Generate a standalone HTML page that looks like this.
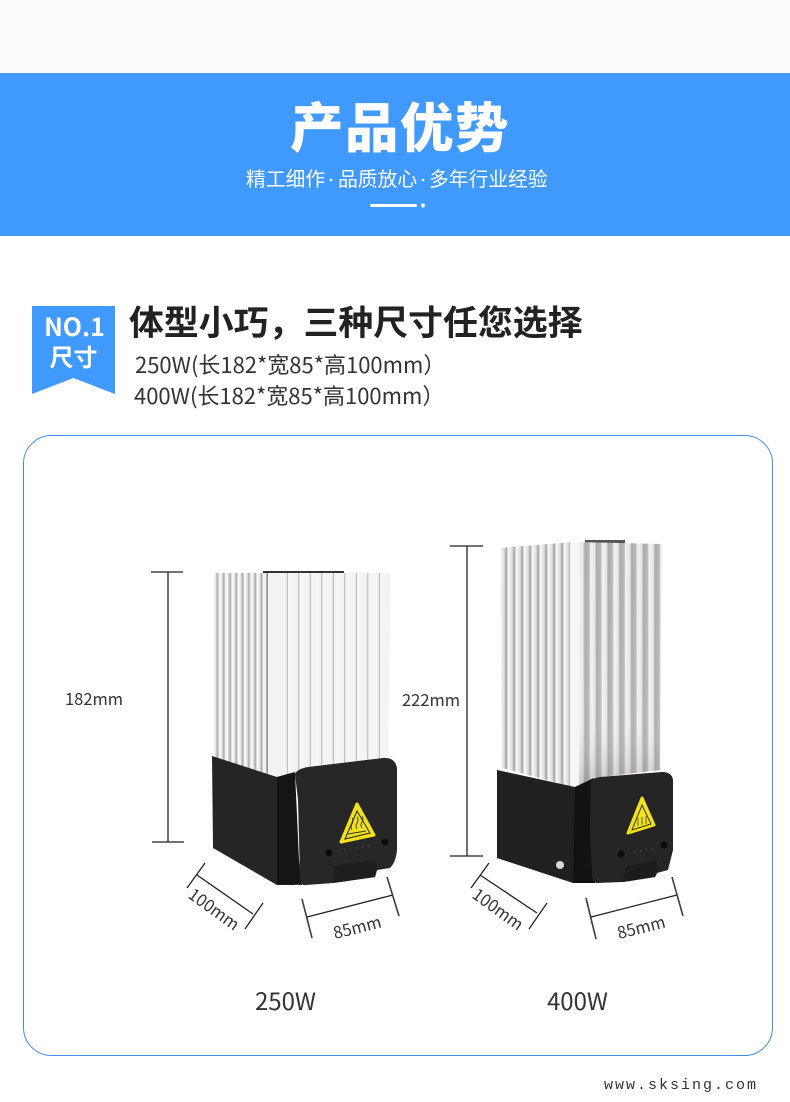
<!DOCTYPE html>
<html lang="zh"><head><meta charset="utf-8"><title>产品优势</title>
<style>
html,body{margin:0;padding:0;background:#fff}
svg{display:block}
.n{font-family:"Noto Sans CJK SC","Liberation Sans",sans-serif}
</style></head><body>
<svg xmlns="http://www.w3.org/2000/svg" width="790" height="1102" viewBox="0 0 790 1102">
<defs>
<linearGradient id="a1" gradientUnits="userSpaceOnUse" x1="213" y1="0" x2="219.300" y2="0" spreadMethod="repeat"><stop offset="0" stop-color="#fff"/><stop offset=".4" stop-color="#e8e8e8"/><stop offset=".72" stop-color="#a8a8a8"/><stop offset="1" stop-color="#f6f6f6"/></linearGradient>
<linearGradient id="a2" gradientUnits="userSpaceOnUse" x1="277.300" y1="0" x2="288.800" y2="0" spreadMethod="repeat"><stop offset="0" stop-color="#f6f6f6"/><stop offset=".8" stop-color="#f2f2f2"/><stop offset=".87" stop-color="#aaa"/><stop offset=".94" stop-color="#f2f2f2"/><stop offset="1" stop-color="#f6f6f6"/></linearGradient>
<linearGradient id="a3" gradientUnits="userSpaceOnUse" x1="500" y1="0" x2="508" y2="0" spreadMethod="repeat"><stop offset="0" stop-color="#fafafa"/><stop offset=".5" stop-color="#dedede"/><stop offset=".8" stop-color="#a4a4a4"/><stop offset="1" stop-color="#eee"/></linearGradient>
<linearGradient id="a4" gradientUnits="userSpaceOnUse" x1="579" y1="0" x2="590.700" y2="0" spreadMethod="repeat"><stop offset="0" stop-color="#f2f2f2"/><stop offset=".35" stop-color="#e2e2e2"/><stop offset=".5" stop-color="#a2a2a2"/><stop offset=".85" stop-color="#b0b0b0"/><stop offset="1" stop-color="#f2f2f2"/></linearGradient>
<linearGradient id="fade" x1="0" y1="0" x2="0" y2="1"><stop offset="0" stop-color="#fff" stop-opacity=".1"/><stop offset=".75" stop-color="#fff" stop-opacity=".15"/><stop offset="1" stop-color="#8a8080" stop-opacity=".35"/></linearGradient>
</defs>
<rect width="790" height="1102" fill="#fff"/>
<rect y="0" width="790" height="73" fill="#fcfcfc"/>
<rect y="73" width="790" height="163" fill="#4099fd"/>
<text class="n" x="290" y="147" font-size="53.500" font-weight="900" fill="#fff" letter-spacing="1.500">产品优势</text>
<g class="n" font-size="19.800" fill="#fff">
<text class="n" x="246" y="186">精工细作</text>
<text class="n" x="338" y="186">品质放心</text>
<text class="n" x="429" y="186">多年行业经验</text>
</g>
<circle cx="331" cy="180" r="1.300" fill="#fff"/>
<circle cx="423" cy="180" r="1.300" fill="#fff"/>
<rect x="370" y="204" width="47" height="3" rx="1.500" fill="#fff"/>
<circle cx="423" cy="205.500" r="2" fill="#fff"/>

<path d="M32 306H115V394L73.500 378L32 394Z" fill="#4099fd"/>
<text class="n" x="74.500" y="336" font-size="25" font-weight="700" fill="#fff" text-anchor="middle">NO.1</text>
<text class="n" x="73.500" y="366" font-size="24" font-weight="700" fill="#fff" text-anchor="middle">尺寸</text>
<text class="n" x="129" y="335" font-size="34.900" font-weight="700" fill="#222">体型小巧，三种尺寸任您选择</text>
<text class="n" x="135" y="373" font-size="22" fill="#333">250W(长182*宽85*高100mm）</text>
<text class="n" x="134" y="404" font-size="22" fill="#333">400W(长182*宽85*高100mm）</text>

<rect x="23.500" y="435.500" width="749" height="620" rx="28" fill="#fff" stroke="#3f8fe8" stroke-width="1"/>

<!-- product 1 -->
<rect x="263" y="571" width="81" height="3" fill="#333"/>
<path d="M214 573H268V778L214 757Z" fill="url(#a1)"/>
<path d="M268 573H390L388 770L296 772L277 778L268 778Z" fill="url(#a2)"/>
<rect x="266.500" y="573" width="1.500" height="200" fill="#8f8f8f"/>
<rect x="269" y="573" width="15" height="205" fill="#f2f2f2"/>
<path d="M212 756L277 777L295 772V885H277L213 848Z" fill="#252525"/>
<path d="M277 777L295 772L299 860L302 885L277 884Z" fill="#151515"/>
<path d="M295 774Q297 769 308 767L383 758Q395 757 397 768V850Q396 862 390 868L377 870L375 877Q355 880 333 883L306 885Q300 886 300 878L298 800Z" fill="#272727"/>
<path d="M341 842L357 804L374 835Z" fill="#f2e21a" stroke="#f2e21a" stroke-width="3" stroke-linejoin="round"/>
<path d="M345 839L357 811L370 833Z" fill="none" stroke="#222" stroke-width="1"/>
<path d="M352 830q-2-3 0-6q2-3 0-6M357 829q-2-3 0-6q2-3 0-6M362 828q-2-3 0-6q2-3 0-6M348 834l18-3" fill="none" stroke="#333" stroke-width=".9"/>
<circle cx="329" cy="853" r="3.500" fill="#0c0c0c"/><circle cx="385" cy="842" r="3.500" fill="#0c0c0c"/>
<path d="M334 866L375 860L377 870L375 877L333 883Z" fill="#1e1e1e"/>
<path d="M338 851h1M344 850h1M350 849h1M356 848h1M362 847h1M368 846h1" stroke="#555" stroke-width="1.500"/>

<!-- product 2 -->
<rect x="585" y="540" width="40" height="5" fill="#555"/>
<path d="M500 548L573 542V787L502 768Z" fill="url(#a3)"/>
<path d="M573 542L662 544L660 770L592 778L575 787Z" fill="url(#a4)"/>
<path d="M573 542L662 544L660 770L592 778L575 787Z" fill="url(#fade)"/>
<rect x="570" y="542" width="9" height="245" fill="#f6f6f6"/>
<path d="M497 770L575 787L593 778V883H573L497 858Z" fill="#202020"/>
<path d="M575 787L588 782L593 778L590 830L595 883L573 883Z" fill="#121212"/>
<path d="M591 780Q593 778 600 777L662 772Q672 772 673 780V850L668 870L657 873L655 877L623 882L597 883Q593 883 592 875L590 830Z" fill="#252525"/>
<path d="M628 833L642 798L654 825Z" fill="#f2e21a" stroke="#f2e21a" stroke-width="3" stroke-linejoin="round"/>
<path d="M632 830L642 805L651 824Z" fill="none" stroke="#333" stroke-width="1"/>
<path d="M638 826v-8M642 825v-8M646 824v-8" fill="none" stroke="#555" stroke-width=".9"/>
<circle cx="621" cy="854" r="3.500" fill="#0b0b0b"/><circle cx="664" cy="845" r="3.500" fill="#0b0b0b"/>
<circle cx="560" cy="865" r="4" fill="#d8d8d8"/>
<path d="M626 867L657 860L657 873L655 877L623 882Z" fill="#1c1c1c"/>
<path d="M634 852h1M640 851h1M646 850h1M652 849h1" stroke="#555" stroke-width="1.500"/>

<!-- dimensions -->
<g stroke="#222" stroke-width="1.300" fill="none">
<path d="M151 572H183M168 572V842M152 842H184"/>
<path d="M450 546H483M467 546V856M450 856H483"/>
<path d="M197 875L253 914M205 863L187 888M263 903L245 929"/>
<path d="M307 917L393 895"/>
<path d="M480 875L537 913M489 863L471 888M547 903L529 929"/>
<path d="M591 917L677 895"/>
</g>
<g stroke="#3d3d4a" stroke-width="1.600" fill="none">
<path d="M302 899L312 938M387 877L399 916M586 898L596 939M672 877L683 916"/>
</g>
<g fill="#333" font-size="16.500">
<text class="n" x="65" y="705">182mm</text>
<text class="n" x="402" y="706">222mm</text>
<text class="n" transform="translate(187 897) rotate(36)">100mm</text>
<text class="n" transform="translate(471 897) rotate(36)">100mm</text>
<text class="n" transform="translate(335 939) rotate(-14)">85mm</text>
<text class="n" transform="translate(619 939) rotate(-14)">85mm</text>
</g>
<text class="n" x="285.500" y="1010" font-size="24" fill="#333" text-anchor="middle">250W</text>
<text class="n" x="577.500" y="1010" font-size="24" fill="#333" text-anchor="middle">400W</text>
<text font-family="'Liberation Mono',monospace" x="604" y="1089" font-size="15" letter-spacing="2" fill="#333">www.sksing.com</text>
</svg>
</body></html>
